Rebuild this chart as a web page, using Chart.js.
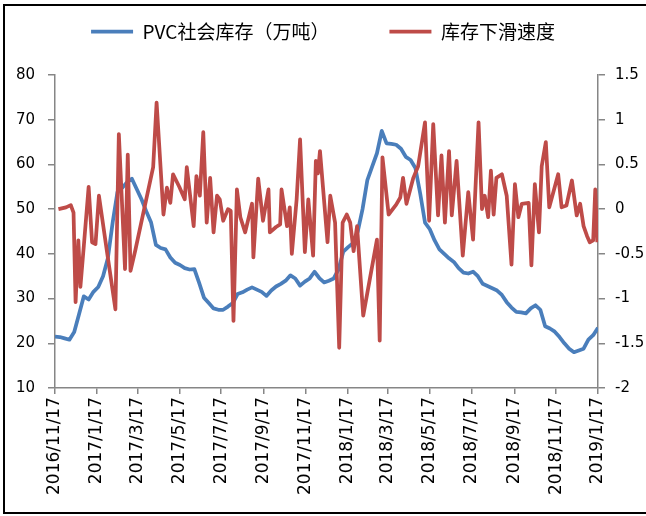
<!DOCTYPE html>
<html>
<head>
<meta charset="utf-8">
<script src="https://cdn.jsdelivr.net/npm/chart.js@4.4.1/dist/chart.umd.min.js"></script>
<style>
  html, body { margin: 0; padding: 0; background: #fff; overflow: hidden; }
  #wrap { position: relative; width: 646px; height: 516px; }
  #frame {
    position: absolute; left: 3px; top: 4px; width: 700px; height: 506px;
    border: 2px solid #000; pointer-events: none;
  }
</style>
</head>
<body>
<div id="wrap">
  <canvas id="inventoryChart" width="646" height="516"></canvas>
  <div id="frame"></div>
</div>
<script>
// x-axis tick labels (every two months)
const tickLabels = [
  "2016/11/17", "2017/1/17", "2017/3/17", "2017/5/17", "2017/7/17", "2017/9/17", "2017/11/17",
  "2018/1/17", "2018/3/17", "2018/5/17", "2018/7/17", "2018/9/17", "2018/11/17", "2019/1/17"
];

// PVC social inventory (10k tons), weekly from 2016/11/17
const inventory = [
  21.5, 21.4, 21.1, 20.8, 22.5, 26.5, 30.5, 29.8, 31.5, 32.6,
  35.0, 39.0, 47.0, 53.8, 54.8, 56.0, 56.8, 54.5, 52.2, 49.5,
  47.0, 42.0, 41.3, 41.0, 39.2, 38.0, 37.5, 36.8, 36.5, 36.6,
  33.5, 30.2, 29.0, 27.8, 27.5, 27.5, 28.2, 29.0, 31.0, 31.4,
  32.0, 32.5, 32.0, 31.5, 30.6, 31.8, 32.7, 33.3, 34.0, 35.2,
  34.5, 32.9, 33.8, 34.5, 36.0, 34.6, 33.6, 34.0, 34.5, 36.5,
  40.5, 41.5, 42.4, 45.0, 50.0, 56.5, 59.5, 62.5, 67.5, 64.7,
  64.6, 64.4, 63.5, 61.7, 61.0, 59.2, 53.5, 47.0, 45.5, 43.0,
  41.0, 40.0, 39.0, 38.2, 36.8, 35.8, 35.6, 36.0, 35.0, 33.3,
  32.8, 32.3, 31.8, 30.8, 29.2, 28.0, 27.0, 26.9, 26.7, 27.8,
  28.5, 27.5, 23.8, 23.3, 22.6, 21.4, 20.0, 18.8, 18.0, 18.4,
  18.8, 20.8, 21.8, 23.5
];

// inventory decline speed: days since 2016/11/17 and values
const speedDays = [
  5, 16, 23, 27, 30, 34, 37, 42, 49, 54,
  59, 64, 76, 88, 93, 102, 106, 110, 117, 143,
  148, 158, 163, 168, 172, 181, 189, 192, 202, 206,
  211, 216, 221, 226, 231, 236, 240, 245, 252, 256,
  260, 265, 270, 277, 287, 289, 296, 303, 311, 313,
  322, 328, 330, 338, 342, 345, 352, 357, 364, 369,
  376, 380, 383, 386, 397, 401, 408, 414, 419, 425,
  430, 435, 440, 449, 469, 473, 477, 486, 497, 503,
  507, 512, 522, 529, 539, 545, 551, 558, 563, 568,
  574, 578, 585, 594, 602, 609, 617, 622, 626, 631,
  635, 639, 643, 651, 658, 665, 670, 675, 680, 690,
  694, 699, 705, 709, 715, 720, 733, 738, 745, 753,
  760, 765, 770, 775, 779, 784, 787, 790
];
const speed = [
  0.0, 0.02, 0.045, -0.04, -1.04, -0.35, -0.87, -0.41, 0.25, -0.37,
  -0.39, 0.15, -0.49, -1.12, 0.84, -0.67, 0.61, -0.69, -0.46, 0.47,
  1.19, -0.06, 0.24, 0.07, 0.39, 0.25, 0.11, 0.47, -0.19, 0.37,
  0.15, 0.86, -0.15, 0.35, -0.26, 0.15, 0.11, -0.13, 0.0, -0.02,
  -1.25, 0.22, -0.09, -0.26, 0.06, -0.54, 0.34, -0.13, 0.22, -0.26,
  -0.2, -0.17, 0.22, -0.19, 0.02, -0.5, 0.11, 0.78, -0.48, 0.11,
  -0.52, 0.54, 0.4, 0.65, -0.37, 0.15, -0.15, -1.55, -0.15, -0.06,
  -0.15, -0.47, -0.19, -1.19, -0.34, -1.47, 0.58, -0.06, 0.05, 0.13,
  0.35, 0.06, 0.35, 0.48, 0.97, -0.13, 0.95, -0.07, 0.6, -0.15,
  0.65, -0.07, 0.54, -0.52, 0.19, -0.34, 0.97, 0.0, 0.15, -0.09,
  0.43, -0.06, 0.35, 0.39, 0.15, -0.62, 0.28, -0.09, 0.06, 0.07,
  -0.63, 0.28, -0.26, 0.48, 0.75, 0.02, 0.39, 0.02, 0.04, 0.32,
  -0.07, 0.06, -0.19, -0.3, -0.37, -0.35, 0.22, -0.37
];

function daysFromStart(label) {
  const [y, m, d] = label.split("/").map(Number);
  return (Date.UTC(y, m - 1, d) - Date.UTC(2016, 10, 17)) / 86400000;
}
const tickDays = tickLabels.map(daysFromStart);

const axisGray = "#868686";
const tickFont = { family: "'DejaVu Sans', Verdana, sans-serif", size: 15 };
const dateFont = { family: "'DejaVu Sans', Verdana, sans-serif", size: 17 };
const legendPadding = 60;

// legend padding also spaces the items apart, so the legend box starts above the
// canvas and its height is pinned so the plot area starts where the original does
const legendHeightPlugin = {
  id: "legendHeight",
  beforeInit(chart) {
    const fit = chart.legend.fit;
    chart.legend.fit = function () {
      fit.call(this);
      this.height = 75 + 38;
    };
  }
};

const context = document.getElementById("inventoryChart").getContext("2d");
new Chart(context, {
  type: "line",
  data: {
    datasets: [
      {
        label: "PVC社会库存（万吨）",
        data: inventory.map((value, i) => ({ x: i * 7, y: value })),
        borderColor: "#4A7EBB",
        backgroundColor: "#4A7EBB",
        borderWidth: 3.75,
        pointRadius: 0,
        borderJoinStyle: "round",
        yAxisID: "y",
        order: 1
      },
      {
        label: "库存下滑速度",
        data: speed.map((value, i) => ({ x: speedDays[i], y: value })),
        borderColor: "#BE4B48",
        backgroundColor: "#BE4B48",
        borderWidth: 3.75,
        pointRadius: 0,
        borderJoinStyle: "round",
        yAxisID: "y1",
        order: 0
      }
    ]
  },
  options: {
    responsive: false,
    animation: false,
    devicePixelRatio: 1,
    layout: { padding: { top: -38, left: 0, right: 0, bottom: 0 } },
    plugins: {
      legend: {
        position: "top",
        labels: {
          usePointStyle: true,
          pointStyle: "line",
          pointStyleWidth: 42,
          padding: legendPadding,
          color: "#000",
          font: { family: "'Noto Sans CJK SC', sans-serif", size: 19 },
          sort: (a, b) => a.datasetIndex - b.datasetIndex
        }
      },
      tooltip: { enabled: false }
    },
    scales: {
      x: {
        type: "linear",
        min: tickDays[0],
        max: tickDays[tickDays.length - 1],
        afterBuildTicks: (scale) => {
          scale.ticks = tickDays.map((value) => ({ value }));
        },
        afterFit: (scale) => { scale.height = 128; },
        grid: { drawOnChartArea: false, color: axisGray, tickLength: 6, lineWidth: 1.5 },
        border: { color: axisGray, width: 1.5 },
        ticks: {
          autoSkip: false,
          maxRotation: 90,
          minRotation: 90,
          padding: 3,
          color: "#000",
          font: dateFont,
          callback: (value) => tickLabels[tickDays.indexOf(value)]
        }
      },
      y: {
        position: "left",
        min: 10,
        max: 80,
        afterFit: (scale) => { scale.width = 55; },
        grid: { drawOnChartArea: false, color: axisGray, tickLength: 7, lineWidth: 1.5 },
        border: { color: axisGray, width: 1.5 },
        ticks: { stepSize: 10, padding: 13, color: "#000", font: tickFont }
      },
      y1: {
        position: "right",
        min: -2,
        max: 1.5,
        afterFit: (scale) => { scale.width = 48; },
        grid: { drawOnChartArea: false, color: axisGray, tickLength: 7, lineWidth: 1.5 },
        border: { color: axisGray, width: 1.5 },
        ticks: {
          stepSize: 0.5,
          padding: 10,
          color: "#000",
          font: tickFont,
          callback: (value) => String(value)
        }
      }
    }
  },
  plugins: [legendHeightPlugin]
});
</script>
</body>
</html>
